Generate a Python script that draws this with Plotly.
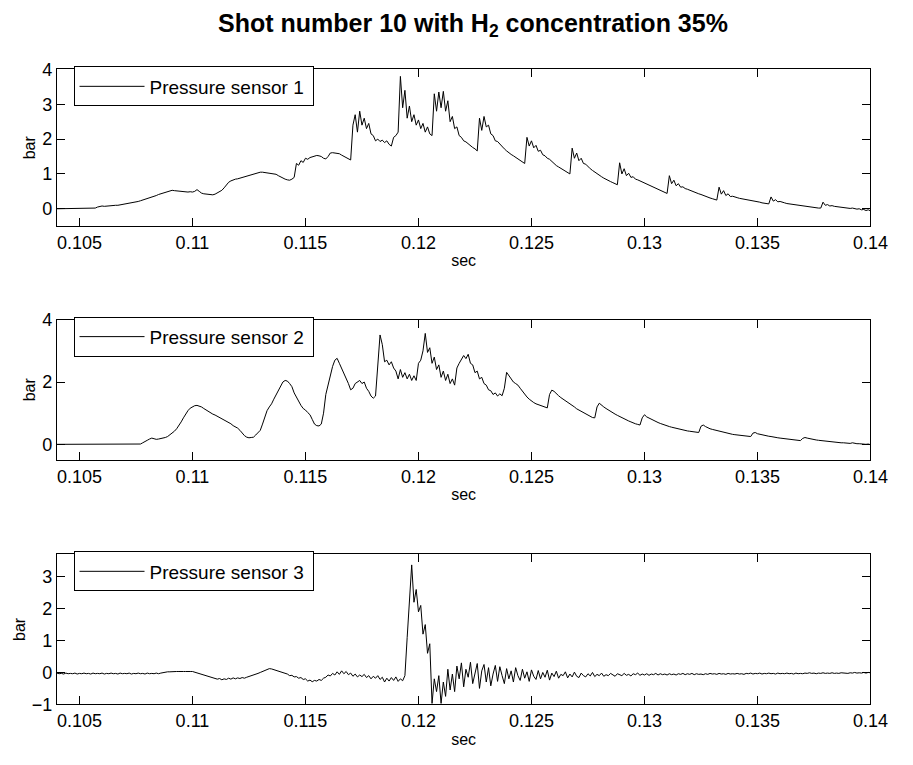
import numpy as np
import plotly.graph_objects as go

# ---------------- data (bar vs. sec), sampled every 0.1 ms from 0.104 s ----------------
t_start = 0.104
t_step = 0.0001

sensor1 = [
    0, 0, 0, 0, 0, 0, 0, 0, 0, 0,
    0, 0, 0, 0, 0, 0, 0, 0.02, 0.05, 0.07,
    0.08, 0.07, 0.08, 0.07, 0.08, 0.09, 0.1, 0.1, 0.11, 0.12,
    0.13, 0.14, 0.15, 0.17, 0.18, 0.2, 0.21, 0.23, 0.25, 0.26,
    0.28, 0.3, 0.33, 0.35, 0.38, 0.41, 0.43, 0.46, 0.48, 0.5,
    0.52, 0.53, 0.52, 0.51, 0.5, 0.5, 0.49, 0.48, 0.48, 0.49,
    0.48, 0.5, 0.55, 0.5, 0.45, 0.43, 0.42, 0.41, 0.41, 0.4,
    0.42, 0.45, 0.49, 0.53, 0.6, 0.68, 0.76, 0.8, 0.83, 0.85,
    0.86, 0.88, 0.9, 0.92, 0.94, 0.96, 0.98, 1.0, 1.02, 1.04,
    1.05, 1.05, 1.04, 1.04, 1.03, 1.02, 1.02, 0.99, 0.95, 0.91,
    0.88, 0.85, 0.83, 0.82, 0.85, 0.9, 1.3, 1.25, 1.38, 1.33,
    1.45, 1.42, 1.47, 1.49, 1.5, 1.53, 1.52, 1.5, 1.45, 1.43,
    1.5, 1.6, 1.61, 1.6, 1.59, 1.58, 1.54, 1.5, 1.46, 1.42,
    1.4, 2.4, 2.7, 2.2, 2.8, 2.4, 2.6, 2.3, 2.45, 2.15,
    2.1, 1.95, 2.0, 1.93, 1.97, 1.9, 1.95, 1.85, 1.8, 2.05,
    2.1, 2.2, 3.8, 2.9, 3.4, 2.6, 2.95, 2.5, 2.7, 2.4,
    2.55, 2.3, 2.45, 2.2, 2.35, 2.15, 2.1, 3.3, 2.8, 3.35,
    2.9, 3.37, 2.8, 3.1, 2.5, 2.65, 2.3, 2.35, 2.1, 2.05,
    1.95, 1.92, 1.86, 1.82, 1.76, 1.72, 1.66, 2.6, 2.25, 2.65,
    2.35, 2.4, 2.15, 2.1, 1.95, 1.93, 1.85, 1.78, 1.72, 1.66,
    1.6, 1.56, 1.52, 1.48, 1.44, 1.4, 1.35, 1.3, 2.05, 1.8,
    1.95, 1.75, 1.82, 1.65, 1.68, 1.55, 1.52, 1.45, 1.42, 1.35,
    1.28, 1.24, 1.2, 1.16, 1.12, 1.08, 1.05, 1.0, 1.74, 1.45,
    1.6, 1.38, 1.45, 1.3, 1.28, 1.2, 1.15, 1.1, 1.05, 1.0,
    0.95, 0.92, 0.88, 0.84, 0.81, 0.78, 0.75, 0.72, 0.69, 1.32,
    1.0, 1.15, 0.95, 1.02, 0.9, 0.92, 0.85, 0.83, 0.8, 0.77,
    0.74, 0.71, 0.68, 0.65, 0.62, 0.59, 0.56, 0.53, 0.5, 0.47,
    0.44, 0.95, 0.72, 0.82, 0.66, 0.72, 0.62, 0.63, 0.58, 0.56,
    0.53, 0.51, 0.48, 0.46, 0.43, 0.41, 0.38, 0.36, 0.33, 0.31,
    0.29, 0.27, 0.25, 0.62, 0.42, 0.52, 0.38, 0.43, 0.35, 0.36,
    0.33, 0.32, 0.3, 0.29, 0.28, 0.27, 0.26, 0.25, 0.23, 0.22,
    0.2, 0.19, 0.17, 0.16, 0.15, 0.14, 0.34, 0.22, 0.26, 0.2,
    0.21, 0.18, 0.17, 0.15, 0.14, 0.12, 0.11, 0.1, 0.09, 0.08,
    0.07, 0.06, 0.05, 0.05, 0.04, 0.03, 0.03, 0.02, 0.02, 0.19,
    0.1, 0.12, 0.08, 0.09, 0.07, 0.06, 0.06, 0.05, 0.04, 0.04,
    0.02, 0.01, 0.02, 0.0, -0.01, 0.0, -0.03, -0.02, -0.05, -0.03,
    -0.06,
]

sensor2 = [
    0, 0, 0, 0, 0, 0, 0, 0, 0, 0,
    0, 0, 0, 0, 0, 0, 0, 0, 0, 0,
    0, 0, 0, 0, 0, 0, 0, 0, 0, 0,
    0, 0, 0, 0, 0, 0, 0.0, 0.01, 0.05, 0.1,
    0.13, 0.17, 0.2, 0.18, 0.16, 0.17, 0.18, 0.2, 0.22, 0.25,
    0.3, 0.35, 0.42, 0.5, 0.6, 0.72, 0.85, 0.97, 1.08, 1.16,
    1.21, 1.24, 1.25, 1.23, 1.2, 1.15, 1.1, 1.05, 1.0, 0.97,
    0.94, 0.9, 0.87, 0.83, 0.79, 0.75, 0.71, 0.66, 0.6, 0.56,
    0.52, 0.45, 0.36, 0.28, 0.23, 0.21, 0.22, 0.23, 0.3, 0.38,
    0.45, 0.65, 0.9, 1.08, 1.2, 1.3, 1.45, 1.6, 1.75, 1.9,
    2.0, 2.05, 2.03, 1.95, 1.85, 1.65, 1.5, 1.4, 1.25, 1.15,
    1.1, 1.02, 0.95, 0.8, 0.65, 0.6, 0.59, 0.65, 1.0, 1.6,
    1.9, 2.25, 2.5, 2.7, 2.76, 2.6, 2.45, 2.3, 2.15, 1.95,
    1.75, 1.8, 1.95, 2.0, 2.05, 1.95, 2.0, 1.8, 1.7, 1.55,
    1.48, 1.55, 2.4, 3.51, 3.2, 2.65, 2.7, 2.55, 2.65, 2.45,
    2.35, 2.1, 2.4, 2.15, 2.3, 2.1, 2.25, 2.05, 2.2, 2.05,
    2.6, 2.7, 3.0, 3.56, 2.95, 3.1, 2.6, 2.8, 2.4, 2.55,
    2.15, 2.35, 2.05, 2.25, 1.95, 2.1, 1.9, 2.45, 2.6, 2.75,
    2.85, 2.75, 2.89, 2.6, 2.55, 2.3, 2.35, 2.1, 2.15, 1.95,
    1.9, 1.75, 1.72, 1.6, 1.65, 1.55, 1.62, 1.56, 1.8, 2.31,
    2.2, 2.1, 2.0, 1.95, 1.9, 1.8, 1.7, 1.6, 1.52, 1.45,
    1.38, 1.34, 1.3, 1.27, 1.24, 1.21, 1.18, 1.17, 1.6, 1.74,
    1.7, 1.62, 1.56, 1.5, 1.45, 1.42, 1.36, 1.3, 1.25, 1.2,
    1.14, 1.1, 1.06, 1.02, 0.98, 0.94, 0.9, 0.86, 0.85, 1.2,
    1.32, 1.25, 1.2, 1.15, 1.1, 1.05, 1.01, 0.97, 0.93, 0.89,
    0.85, 0.81, 0.78, 0.75, 0.72, 0.68, 0.66, 0.64, 0.62, 0.85,
    0.95, 0.88, 0.84, 0.8, 0.76, 0.73, 0.7, 0.67, 0.64, 0.62,
    0.6, 0.57, 0.55, 0.53, 0.51, 0.49, 0.47, 0.45, 0.44, 0.43,
    0.42, 0.41, 0.4, 0.39, 0.38, 0.58, 0.62, 0.57, 0.53, 0.5,
    0.48, 0.46, 0.44, 0.42, 0.4, 0.38, 0.36, 0.35, 0.34, 0.32,
    0.31, 0.3, 0.29, 0.28, 0.27, 0.26, 0.25, 0.25, 0.36, 0.38,
    0.34, 0.32, 0.3, 0.29, 0.27, 0.26, 0.25, 0.23, 0.22, 0.21,
    0.2, 0.19, 0.18, 0.17, 0.16, 0.15, 0.14, 0.13, 0.13, 0.12,
    0.19, 0.22, 0.2, 0.18, 0.16, 0.15, 0.14, 0.13, 0.12, 0.11,
    0.1, 0.09, 0.08, 0.08, 0.07, 0.06, 0.06, 0.05, 0.05, 0.04,
    0.04, 0.03, 0.05, 0.03, 0.02, 0.02, 0.01, 0.02, 0.0, 0.01,
    -0.01,
]

sensor3 = [
    -0.02, -0.04, -0.03, -0.05, -0.02, -0.04, -0.03, -0.04, -0.02, -0.05,
    -0.03, -0.04, -0.02, -0.04, -0.03, -0.05, -0.02, -0.04, -0.03, -0.04,
    -0.02, -0.05, -0.03, -0.04, -0.02, -0.04, -0.03, -0.05, -0.02, -0.04,
    -0.03, -0.04, -0.02, -0.05, -0.03, -0.04, -0.02, -0.04, -0.03, -0.05,
    -0.02, -0.04, -0.03, -0.04, -0.02, -0.04, -0.02, 0.0, 0.01, 0.02,
    0.02, 0.03, 0.02, 0.03, 0.03, 0.04, 0.03, 0.03, 0.04, 0.03,
    0.03, 0.01, -0.02, -0.05, -0.06, -0.09, -0.1, -0.13, -0.14, -0.17,
    -0.18, -0.21, -0.19, -0.23, -0.2, -0.22, -0.18, -0.21, -0.17, -0.2,
    -0.17, -0.19, -0.16, -0.18, -0.15, -0.13, -0.11, -0.08, -0.06, -0.03,
    0.0, 0.03, 0.06, 0.09, 0.12, 0.11, 0.09, 0.06, 0.05, 0.02,
    0.01, -0.03, -0.05, -0.1, -0.09, -0.14, -0.13, -0.18, -0.16, -0.22,
    -0.2, -0.27, -0.24, -0.29, -0.25, -0.27, -0.22, -0.25, -0.18, -0.15,
    -0.08, -0.11, -0.03, -0.08, 0.02, -0.06, 0.05, -0.04, 0.03, -0.07,
    -0.02, -0.12, -0.05, -0.14, -0.08, -0.13, -0.06, -0.16, -0.1, -0.2,
    -0.12, -0.18, -0.1, -0.22, -0.15, -0.3, -0.18, -0.27, -0.16, -0.25,
    -0.14, -0.28, -0.2, -0.26, -0.1, 1.1, 2.4, 3.37, 2.2, 2.6,
    1.9, 2.1, 1.2, 1.5, 0.6, 0.9, -0.97, -0.2, -0.6, -0.1,
    -0.97, -0.3, -0.75, 0.1, -0.55, -0.05, -0.6, 0.2, -0.2, 0.3,
    -0.45, 0.1, -0.15, 0.32, -0.35, -0.05, 0.28, -0.5, 0.05, 0.25,
    -0.3, 0.15, -0.42, -0.05, 0.22, -0.28, 0.18, -0.1, -0.35, 0.12,
    -0.2, 0.05, -0.3, 0.15, -0.1, -0.25, 0.1, -0.18, 0.02, -0.28,
    0.08, -0.12, -0.22, 0.06, -0.2, 0.0, -0.15, 0.07, -0.24, -0.02,
    -0.13, 0.04, -0.18, -0.06, -0.1, 0.02, -0.17, -0.05, -0.14, 0.01,
    -0.12, -0.16, -0.02, -0.1, -0.14, -0.04, -0.11, 0.0, -0.13, -0.06,
    -0.1, -0.02, -0.12, -0.07, -0.1, -0.03, -0.09, -0.12, -0.04, -0.08,
    -0.1, -0.03, -0.09, -0.06, -0.11, -0.04, -0.07, -0.02, -0.09, -0.05,
    -0.08, -0.04, -0.09, -0.05, -0.07, -0.03, -0.08, -0.04, -0.07, -0.05,
    -0.08, -0.04, -0.07, -0.05, -0.08, -0.04, -0.06, -0.03, -0.07, -0.04,
    -0.06, -0.03, -0.07, -0.04, -0.06, -0.05, -0.07, -0.04, -0.06, -0.03,
    -0.05, -0.04, -0.06, -0.03, -0.05, -0.04, -0.06, -0.03, -0.05, -0.04,
    -0.05, -0.03, -0.05, -0.04, -0.06, -0.03, -0.04, -0.02, -0.05, -0.03,
    -0.04, -0.02, -0.05, -0.03, -0.04, -0.02, -0.04, -0.03, -0.05, -0.02,
    -0.04, -0.03, -0.04, -0.02, -0.04, -0.03, -0.05, -0.02, -0.04, -0.03,
    -0.04, -0.02, -0.03, -0.01, -0.03, -0.02, -0.04, -0.02, -0.03, -0.01,
    -0.03, -0.02, -0.03, -0.01, -0.03, -0.02, -0.03, -0.01, -0.02, -0.01,
    -0.03, -0.01, -0.02, 0.0, -0.02, -0.01, -0.02, 0.0, -0.02, 0.0,
    -0.01,
]

series_names = ["Pressure sensor 1", "Pressure sensor 2", "Pressure sensor 3"]
x_tick_vals = [0.105, 0.11, 0.115, 0.12, 0.125, 0.13, 0.135, 0.14]
x_tick_text = ["0.105", "0.11", "0.115", "0.12", "0.125", "0.13", "0.135", "0.14"]
y_ticks = [[0, 1, 2, 3, 4], [0, 2, 4], [-1, 0, 1, 2, 3]]
y_ranges = [[-0.5, 4], [-0.5, 4], [-1, 3.7]]
x_range = [0.104, 0.14]
title_text = "<b>Shot number 10 with H<sub>2</sub> concentration 35%</b>"

# ---------------- figure ----------------
W, H = 913, 765
FONT = "Arial, Liberation Sans, Helvetica, sans-serif"

# axes boxes in pixels (top, bottom)
boxes = [(61, 222), (318, 462), (559, 713)]
x_left, x_right = 58, 888

fig = go.Figure()
series = [sensor1, sensor2, sensor3]
legend_keys = ["legend", "legend2", "legend3"]
for i, vals in enumerate(series):
    t = t_start + t_step * np.arange(len(vals))
    fig.add_trace(go.Scatter(
        x=t, y=vals, mode="lines", name=series_names[i],
        line=dict(color="black", width=1),
        xaxis="x" if i == 0 else f"x{i+1}",
        yaxis="y" if i == 0 else f"y{i+1}",
        legend=legend_keys[i],
        showlegend=True,
    ))

layout = dict(
    width=W, height=H,
    margin=dict(l=0, r=0, t=0, b=0),
    paper_bgcolor="white", plot_bgcolor="white",
    font=dict(family=FONT, color="black", size=18),
    title=dict(text=title_text, x=((x_left + x_right) / 2) / W, xanchor="center",
               y=1 - 23 / H, yanchor="middle",
               font=dict(family=FONT, size=25, color="black")),
)

for i, (top, bot) in enumerate(boxes):
    sfx = "" if i == 0 else str(i + 1)
    layout["xaxis" + sfx] = dict(
        domain=[x_left / W, x_right / W], range=x_range,
        anchor="y" + sfx,
        tickmode="array", tickvals=x_tick_vals, ticktext=x_tick_text,
        ticks="inside", ticklen=8, tickcolor="black", tickwidth=1,
        showline=True, linecolor="black", linewidth=1, mirror="ticks",
        showgrid=False, zeroline=False,
        tickfont=dict(size=18),
        title=dict(text="sec", font=dict(size=16), standoff=3),
    )
    layout["yaxis" + sfx] = dict(
        domain=[1 - bot / H, 1 - top / H], range=y_ranges[i],
        anchor="x" + sfx,
        tickmode="array", tickvals=y_ticks[i],
        ticks="inside", ticklen=8, tickcolor="black", tickwidth=1,
        showline=True, linecolor="black", linewidth=1, mirror="ticks",
        showgrid=False, zeroline=False,
        tickfont=dict(size=18),
        title=dict(text="bar", font=dict(size=16), standoff=2),
    )
    layout[legend_keys[i]] = dict(
        x=75 / W, y=1 - (top - 3) / H, xanchor="left", yanchor="top",
        xref="paper", yref="paper",
        bordercolor="black", borderwidth=1, bgcolor="white",
        font=dict(size=19, family=FONT),
        orientation="h", entrywidth=158, entrywidthmode="pixels",
        itemwidth=65,
    )

fig.update_layout(**layout)
fig.write_html("out.html")
